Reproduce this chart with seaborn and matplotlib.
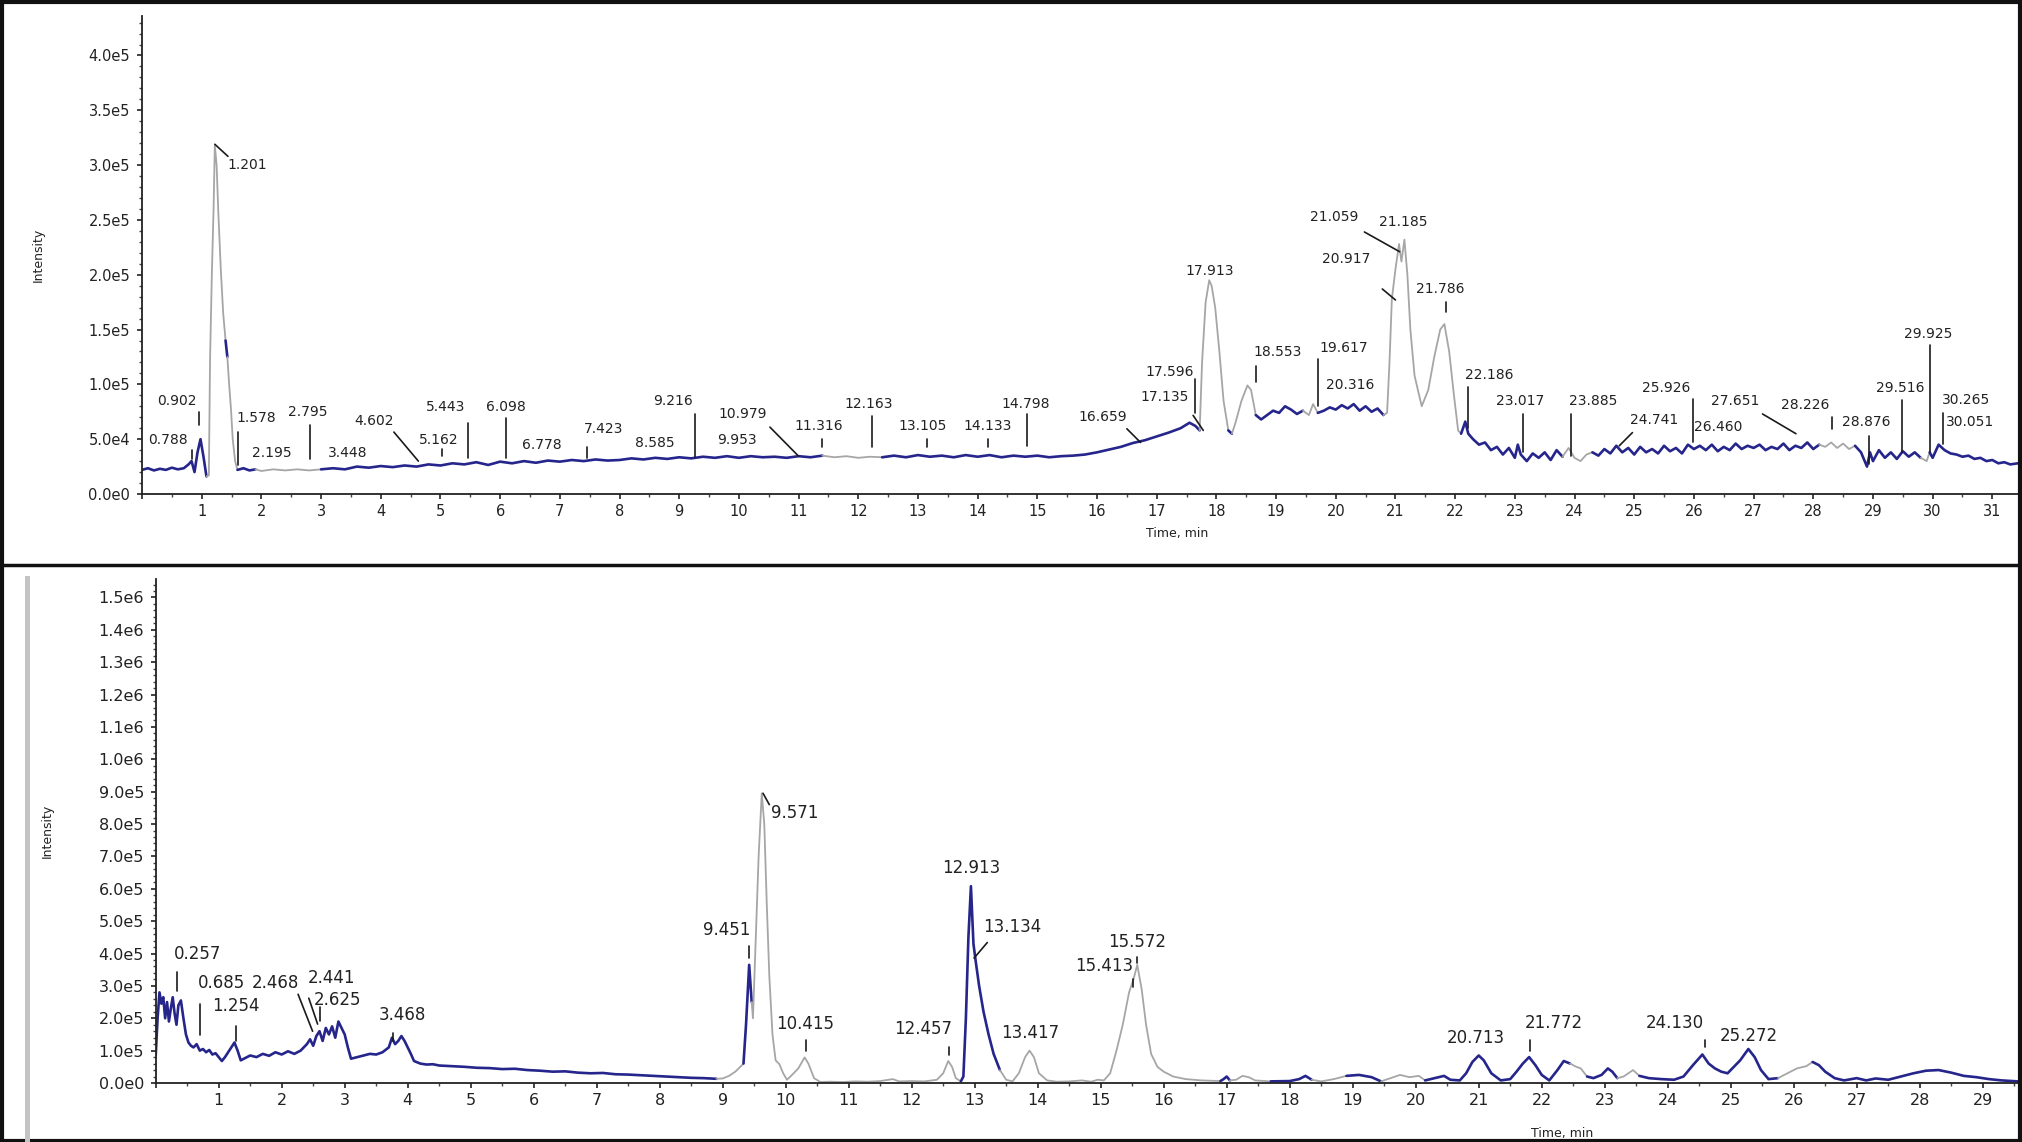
import matplotlib
matplotlib.use("Agg")
import matplotlib.pyplot as plt
import pandas as pd
import seaborn as sns
from matplotlib.ticker import MultipleLocator, FuncFormatter
from matplotlib.lines import Line2D
from matplotlib.patches import Rectangle

#%% Dados lidos do cromatograma (tempo em min, intensidade em cps)

# painel superior
top_t = [0.00, 0.10, 0.20, 0.30, 0.40, 0.50, 0.60, 0.70, 0.78, 0.83,
         0.88, 0.93, 0.98, 1.03, 1.08, 1.12, 1.14, 1.17, 1.20, 1.22,
         1.25, 1.28, 1.32, 1.36, 1.40, 1.43, 1.46, 1.49, 1.52, 1.56,
         1.60, 1.70, 1.80, 1.90, 2.00, 2.20, 2.40, 2.60, 2.80, 3.00,
         3.20, 3.40, 3.60, 3.80, 4.00, 4.20, 4.40, 4.60, 4.80, 5.00,
         5.20, 5.40, 5.60, 5.80, 6.00, 6.20, 6.40, 6.60, 6.80, 7.00,
         7.20, 7.40, 7.60, 7.80, 8.00, 8.20, 8.40, 8.60, 8.80, 9.00,
         9.20, 9.40, 9.60, 9.80, 10.00, 10.20, 10.40, 10.60, 10.80, 11.00,
         11.20, 11.40, 11.60, 11.80, 12.00, 12.20, 12.40, 12.60, 12.80, 13.00,
         13.20, 13.40, 13.60, 13.80, 14.00, 14.20, 14.40, 14.60, 14.80, 15.00,
         15.20, 15.40, 15.60, 15.80, 16.00, 16.20, 16.40, 16.60, 16.80, 17.00,
         17.20, 17.40, 17.55, 17.65, 17.72, 17.76, 17.82, 17.88, 17.92, 17.98,
         18.05, 18.12, 18.20, 18.26, 18.32, 18.42, 18.52, 18.58, 18.66, 18.75,
         18.85, 18.95, 19.05, 19.15, 19.25, 19.35, 19.45, 19.55, 19.62, 19.70,
         19.80, 19.90, 20.00, 20.10, 20.20, 20.30, 20.40, 20.50, 20.60, 20.70,
         20.80, 20.86, 20.90, 20.94, 21.00, 21.06, 21.10, 21.15, 21.20, 21.25,
         21.32, 21.44, 21.55, 21.65, 21.75, 21.82, 21.90, 21.98, 22.05, 22.10,
         22.17, 22.22, 22.30, 22.40, 22.50, 22.60, 22.70, 22.80, 22.90, 23.00,
         23.05, 23.10, 23.20, 23.30, 23.40, 23.50, 23.60, 23.70, 23.80, 23.90,
         24.00, 24.10, 24.20, 24.30, 24.40, 24.50, 24.60, 24.70, 24.80, 24.90,
         25.00, 25.10, 25.20, 25.30, 25.40, 25.50, 25.60, 25.70, 25.80, 25.90,
         26.00, 26.10, 26.20, 26.30, 26.40, 26.50, 26.60, 26.70, 26.80, 26.90,
         27.00, 27.10, 27.20, 27.30, 27.40, 27.50, 27.60, 27.70, 27.80, 27.90,
         28.00, 28.10, 28.20, 28.30, 28.40, 28.50, 28.60, 28.70, 28.80, 28.90,
         28.95, 29.00, 29.10, 29.20, 29.30, 29.40, 29.50, 29.60, 29.70, 29.80,
         29.90, 29.95, 30.00, 30.10, 30.20, 30.30, 30.40, 30.50, 30.60, 30.70,
         30.80, 30.90, 31.00, 31.10, 31.20, 31.30, 31.43]
top_i = [22000, 23500, 21500, 23000, 22000, 24000, 22500, 23500, 27000, 30000,
         20000, 38000, 50000, 34000, 16000, 17000, 122000, 200000, 262000, 318000,
         300000, 255000, 205000, 165000, 140000, 125000, 100000, 78000, 50000, 30000,
         22000, 23500, 21500, 22500, 21000, 22500, 21500, 22500, 21500, 22500,
         23500, 22500, 25000, 24000, 25500, 24500, 26000, 25000, 27000, 26000,
         28000, 27000, 29000, 26500, 29500, 28000, 30000, 28500, 30500, 29500,
         31000, 30000, 31500, 30500, 31000, 32500, 31500, 33000, 32000, 33500,
         32500, 34000, 33000, 34500, 33000, 34500, 33500, 34000, 33000, 34500,
         33500, 35000, 33500, 34500, 33000, 34000, 33500, 35000, 33500, 35500,
         34000, 35000, 33500, 35500, 34000, 35500, 33500, 35000, 34000, 35000,
         33500, 34500, 35000, 36000, 38000, 40500, 43000, 46500, 49000, 52500,
         56000, 60000, 65000, 62000, 58000, 120000, 175000, 195000, 190000, 170000,
         130000, 85000, 58000, 55000, 65000, 85000, 99000, 95000, 72000, 68000,
         72000, 76000, 74000, 80000, 77000, 73000, 76000, 72000, 82000, 74000,
         76000, 79000, 77000, 81000, 78000, 82000, 76000, 80000, 75000, 78000,
         72000, 74000, 120000, 178000, 205000, 228000, 212000, 232000, 200000, 150000,
         108000, 80000, 95000, 125000, 150000, 155000, 130000, 90000, 58000, 55000,
         66000, 55000, 50000, 45000, 47000, 40000, 43000, 36000, 42000, 33000,
         45000, 36000, 30000, 37000, 33000, 38000, 31000, 40000, 34000, 42000,
         33000, 30000, 36000, 38000, 35000, 41000, 37000, 44000, 38000, 42000,
         36000, 43000, 38000, 41000, 37000, 44000, 39000, 42000, 37000, 45000,
         41000, 44000, 40000, 45000, 39000, 43000, 40000, 46000, 41000, 44000,
         42000, 45000, 40000, 43000, 41000, 46000, 40000, 44000, 42000, 47000,
         41000, 45000, 43000, 47000, 42000, 46000, 41000, 44000, 38000, 25000,
         38000, 30000, 40000, 33000, 38000, 32000, 39000, 34000, 38000, 33000,
         30000, 38000, 33000, 45000, 40000, 37000, 36000, 34000, 35000, 32000,
         33000, 30000, 31000, 28000, 29000, 27000, 28000]
# trechos integrados (desenhados em cinza)
top_gray = [(1.10, 1.38), (1.44, 1.58), (1.95, 2.90), (11.50, 12.30),
            (17.74, 18.16), (18.29, 18.70), (19.50, 19.66), (20.83, 22.08),
            (23.85, 24.25), (28.15, 28.65), (29.85, 29.97)]

# rótulos: texto, x, y do texto, linha guia (x0, y0, x1, y1)
top_labels = [
    ("0.788", 0.44, 43000, (0.83, 31500, 0.83, 40000)),
    ("0.902", 0.58, 78000, (0.955, 63000, 0.955, 75000)),
    ("1.201", 1.43, 294000, (1.22, 319000, 1.44, 308000)),
    ("1.578", 1.91, 63000, (1.61, 26600, 1.61, 56500)),
    ("2.195", 2.17, 31000, None),
    ("2.795", 2.77, 68000, (2.81, 31500, 2.81, 63000)),
    ("3.448", 3.44, 31000, None),
    ("4.602", 3.89, 60000, (4.22, 56500, 4.63, 30000)),
    ("5.162", 4.97, 43000, (5.03, 35000, 5.03, 41500)),
    ("5.443", 5.08, 73000, (5.46, 33000, 5.46, 65000)),
    ("6.098", 6.09, 73000, (6.10, 33000, 6.10, 69000)),
    ("6.778", 6.69, 38000, None),
    ("7.423", 7.73, 53000, (7.45, 33000, 7.45, 43000)),
    ("8.585", 8.59, 40000, None),
    ("9.216", 8.89, 78000, (9.26, 34000, 9.26, 73000)),
    ("9.953", 9.96, 42700, None),
    ("10.979", 10.07, 67000, (10.52, 61000, 11.00, 34500)),
    ("11.316", 11.33, 56000, (11.39, 42700, 11.39, 50000)),
    ("12.163", 12.18, 76000, (12.23, 42700, 12.23, 71500)),
    ("13.105", 13.08, 56000, (13.15, 42700, 13.15, 50000)),
    ("14.133", 14.17, 56000, (14.17, 42700, 14.17, 50000)),
    ("14.798", 14.81, 76000, (14.83, 44000, 14.83, 73000)),
    ("16.659", 16.09, 64000, (16.50, 59500, 16.73, 47000)),
    ("17.135", 17.14, 82000, (17.61, 71700, 17.78, 58000)),
    ("17.596", 17.22, 105000, (17.65, 74000, 17.65, 105000)),
    ("17.913", 17.89, 197000, None),
    ("18.553", 19.02, 123500, (18.66, 102000, 18.66, 117000)),
    ("19.617", 20.14, 126500, (19.70, 80000, 19.70, 123000)),
    ("20.316", 20.24, 93000, None),
    ("21.059", 19.97, 246000, (20.48, 239000, 21.07, 221000)),
    ("21.185", 21.13, 242000, None),
    ("20.917", 20.18, 208000, (20.78, 187000, 21.00, 177000)),
    ("21.786", 21.75, 181000, (21.84, 166000, 21.84, 175000)),
    ("22.186", 22.57, 102000, (22.21, 60000, 22.21, 98000)),
    ("23.017", 23.09, 78000, (23.14, 38000, 23.14, 73000)),
    ("23.885", 24.31, 78000, (23.94, 35000, 23.94, 73000)),
    ("24.741", 25.34, 61000, (24.97, 56000, 24.75, 44000)),
    ("25.926", 25.53, 90000, (25.98, 47000, 25.98, 87000)),
    ("26.460", 26.41, 55000, None),
    ("27.651", 26.70, 78000, (27.15, 73000, 27.71, 55000)),
    ("28.226", 27.86, 75000, (28.32, 59500, 28.32, 70000)),
    ("28.876", 28.89, 59500, (28.93, 27500, 28.93, 53000)),
    ("29.516", 29.45, 90000, (29.48, 38000, 29.48, 85500)),
    ("29.925", 29.93, 140000, (29.95, 38000, 29.95, 136000)),
    ("30.265", 30.56, 79000, None),
    ("30.051", 30.63, 59500, (30.17, 46000, 30.17, 74000)),
]

# painel inferior
bot_t = [0.00, 0.03, 0.06, 0.09, 0.12, 0.15, 0.18, 0.21, 0.24, 0.27,
         0.30, 0.33, 0.36, 0.40, 0.44, 0.48, 0.52, 0.56, 0.60, 0.65,
         0.70, 0.75, 0.80, 0.85, 0.90, 0.95, 1.00, 1.05, 1.10, 1.15,
         1.20, 1.25, 1.30, 1.35, 1.40, 1.50, 1.60, 1.70, 1.80, 1.90,
         2.00, 2.10, 2.20, 2.30, 2.40, 2.45, 2.50, 2.55, 2.60, 2.65,
         2.70, 2.75, 2.80, 2.85, 2.90, 2.95, 3.00, 3.05, 3.10, 3.20,
         3.30, 3.40, 3.50, 3.60, 3.70, 3.75, 3.80, 3.85, 3.90, 3.95,
         4.00, 4.05, 4.10, 4.20, 4.30, 4.40, 4.50, 4.70, 4.90, 5.10,
         5.30, 5.50, 5.70, 5.90, 6.10, 6.30, 6.50, 6.70, 6.90, 7.10,
         7.30, 7.50, 7.70, 7.90, 8.10, 8.30, 8.50, 8.70, 8.90, 9.00,
         9.10, 9.20, 9.28, 9.33, 9.37, 9.42, 9.46, 9.48, 9.52, 9.57,
         9.62, 9.66, 9.70, 9.74, 9.79, 9.84, 9.90, 9.96, 10.02, 10.10,
         10.20, 10.30, 10.36, 10.45, 10.55, 10.70, 10.90, 11.10, 11.30, 11.50,
         11.70, 11.80, 12.00, 12.20, 12.40, 12.50, 12.58, 12.64, 12.70, 12.78,
         12.82, 12.86, 12.90, 12.94, 12.98, 13.02, 13.07, 13.14, 13.22, 13.30,
         13.40, 13.50, 13.60, 13.70, 13.80, 13.87, 13.94, 14.02, 14.15, 14.30,
         14.50, 14.70, 14.85, 14.95, 15.05, 15.15, 15.25, 15.35, 15.45, 15.52,
         15.58, 15.65, 15.72, 15.80, 15.90, 16.00, 16.15, 16.35, 16.60, 16.90,
         16.95, 17.00, 17.05, 17.15, 17.25, 17.35, 17.45, 17.70, 18.00, 18.15,
         18.25, 18.35, 18.50, 18.70, 18.90, 19.10, 19.30, 19.45, 19.60, 19.75,
         19.90, 20.05, 20.15, 20.30, 20.45, 20.55, 20.70, 20.80, 20.90, 21.00,
         21.08, 21.20, 21.35, 21.50, 21.60, 21.70, 21.80, 21.90, 22.00, 22.12,
         22.25, 22.35, 22.45, 22.55, 22.62, 22.72, 22.82, 22.95, 23.05, 23.12,
         23.20, 23.30, 23.45, 23.55, 23.70, 23.90, 24.10, 24.25, 24.40, 24.55,
         24.65, 24.75, 24.85, 24.95, 25.05, 25.15, 25.28, 25.38, 25.48, 25.60,
         25.75, 25.90, 26.05, 26.20, 26.30, 26.40, 26.50, 26.65, 26.80, 27.00,
         27.15, 27.30, 27.50, 27.70, 27.90, 28.10, 28.30, 28.50, 28.70, 28.90,
         29.10, 29.30, 29.56]
bot_i = [85000, 200000, 280000, 245000, 265000, 200000, 250000, 190000, 230000, 265000,
         215000, 180000, 240000, 255000, 200000, 150000, 125000, 115000, 110000, 120000,
         100000, 105000, 95000, 102000, 88000, 92000, 80000, 68000, 80000, 95000,
         110000, 125000, 100000, 70000, 75000, 85000, 80000, 90000, 84000, 95000,
         88000, 98000, 90000, 100000, 120000, 135000, 115000, 145000, 160000, 130000,
         170000, 150000, 175000, 140000, 190000, 170000, 150000, 110000, 75000, 80000,
         85000, 90000, 88000, 95000, 110000, 140000, 120000, 130000, 145000, 130000,
         110000, 90000, 68000, 60000, 57000, 58000, 54000, 52000, 50000, 47000,
         46000, 43000, 44000, 40000, 38000, 35000, 36000, 32000, 30000, 31000,
         27000, 26000, 24000, 22000, 20000, 18000, 16000, 15000, 13000, 14000,
         22000, 35000, 50000, 60000, 180000, 365000, 250000, 200000, 420000, 700000,
         895000, 800000, 550000, 330000, 150000, 70000, 58000, 30000, 10000, 25000,
         45000, 79000, 60000, 15000, 3000, 4000, 3000, 5000, 4000, 6000,
         12000, 5000, 6000, 5000, 10000, 30000, 68000, 50000, 15000, 5000,
         20000, 200000, 450000, 608000, 430000, 370000, 300000, 220000, 150000, 90000,
         40000, 10000, 5000, 30000, 80000, 100000, 80000, 30000, 8000, 4000,
         5000, 8000, 4000, 10000, 8000, 30000, 100000, 180000, 280000, 320000,
         365000, 290000, 180000, 90000, 50000, 35000, 20000, 12000, 8000, 6000,
         12000, 20000, 8000, 10000, 22000, 18000, 8000, 5000, 6000, 12000,
         22000, 10000, 5000, 12000, 22000, 25000, 18000, 5000, 15000, 25000,
         18000, 22000, 8000, 15000, 22000, 10000, 8000, 30000, 65000, 85000,
         70000, 30000, 8000, 12000, 35000, 60000, 80000, 55000, 25000, 8000,
         40000, 68000, 60000, 50000, 45000, 20000, 15000, 25000, 45000, 35000,
         15000, 20000, 40000, 22000, 15000, 12000, 10000, 20000, 55000, 88000,
         60000, 45000, 35000, 30000, 50000, 70000, 105000, 80000, 40000, 12000,
         15000, 30000, 45000, 52000, 65000, 55000, 35000, 15000, 8000, 15000,
         8000, 14000, 10000, 20000, 30000, 38000, 40000, 32000, 22000, 18000,
         12000, 8000, 5000]
bot_gray = [(8.95, 9.345), (9.47, 12.79), (13.45, 16.92), (17.10, 17.60),
            (18.40, 18.80), (19.50, 20.20), (22.50, 22.76), (23.25, 23.60),
            (25.70, 26.25)]

bot_labels = [
    ("0.257", 0.66, 371000, (0.34, 285000, 0.34, 342000)),
    ("0.685", 1.04, 280000, (0.70, 148000, 0.70, 245000)),
    ("2.468", 1.90, 280000, (2.26, 274000, 2.49, 160000)),
    ("1.254", 1.27, 211000, (1.27, 130000, 1.27, 175000)),
    ("2.441", 2.79, 297000, (2.43, 262000, 2.57, 182000)),
    ("2.625", 2.89, 228000, (2.60, 190000, 2.60, 235000)),
    ("3.468", 3.92, 183000, (3.76, 130000, 3.76, 155000)),
    ("9.451", 9.07, 445000, (9.42, 387000, 9.42, 424000)),
    ("9.571", 9.76, 805000, (9.64, 895000, 9.74, 860000)),
    ("10.415", 10.31, 154000, (10.32, 100000, 10.32, 132000)),
    ("12.457", 12.18, 138000, (12.59, 85000, 12.59, 112000)),
    ("12.913", 12.95, 635000, None),
    ("13.134", 13.60, 455000, (13.20, 434000, 12.99, 386000)),
    ("13.417", 13.88, 127000, None),
    ("15.413", 15.05, 333000, (15.51, 296000, 15.51, 322000)),
    ("15.572", 15.58, 408000, (15.58, 370000, 15.58, 388000)),
    ("20.713", 20.96, 111000, None),
    ("21.772", 22.19, 159000, (21.81, 100000, 21.81, 132000)),
    ("24.130", 24.12, 159000, (24.59, 111000, 24.59, 132000)),
    ("25.272", 25.28, 116000, None),
]

assert len(top_t) == len(top_i) and len(bot_t) == len(bot_i)

NAVY = '#25258c'
GRAY = '#a6a6a6'
W, H = 2022, 1142

#%% Funções auxiliares

def trechos(t, y, spans):
    # divide o traço em trechos contínuos de mesma cor
    rows = []
    run, prev = -1, None
    for k in range(1, len(t)):
        mid = (t[k - 1] + t[k]) / 2
        g = any(a <= mid <= b for a, b in spans)
        if g != prev:
            run += 1
            rows.append((t[k - 1], y[k - 1], f"r{run}", g))
            prev = g
        rows.append((t[k], y[k], f"r{run}", g))
    df = pd.DataFrame(rows, columns=['t', 'i', 'run', 'gray'])
    pal = {r: (GRAY if g else NAVY) for r, g in df.groupby('run')['gray'].first().items()}
    return df, pal


def sci(v, pos):
    if v == 0:
        return "0.0e0"
    e = 0
    m = v
    while abs(m) >= 10:
        m /= 10
        e += 1
    return f"{m:.1f}e{e}"


def painel(ax, t, y, spans, labels, xmax, ymax, ystep, fs_tick, fs_lab, xl_pos, yl_pos):
    df, pal = trechos(t, y, spans)
    sns.lineplot(data=df, x='t', y='i', hue='run', palette=pal, size='gray',
                 sizes={True: 1.3, False: 1.9}, estimator=None,
                 sort=False, legend=False, ax=ax)
    for txt, tx, ty, ln in labels:
        ha = 'left' if txt in ("1.201", "9.571") else 'center'
        ax.text(tx, ty, txt, ha=ha, va='bottom', fontsize=fs_lab, color='#222222')
        if ln is not None:
            ax.plot([ln[0], ln[2]], [ln[1], ln[3]], color='#1a1a1a', lw=1.2)
    ax.set_xlim(0, xmax)
    ax.set_ylim(0, ymax)
    ax.xaxis.set_major_locator(MultipleLocator(1))
    ax.xaxis.set_minor_locator(MultipleLocator(0.5))
    ax.yaxis.set_major_locator(MultipleLocator(ystep))
    ax.yaxis.set_minor_locator(MultipleLocator(ystep / 5))
    ax.xaxis.set_major_formatter(FuncFormatter(lambda v, p: "" if v == 0 else f"{int(round(v))}"))
    ax.yaxis.set_major_formatter(FuncFormatter(sci))
    ax.tick_params(axis='both', which='major', direction='out', length=3.5, width=1.2,
                   color='#222222', labelsize=fs_tick, labelcolor='#222222', bottom=True, left=True)
    ax.tick_params(axis='both', which='minor', direction='out', length=2, width=1.0,
                   color='#444444', bottom=True, left=True)
    ax.tick_params(axis='y', which='major', pad=5)
    ax.tick_params(axis='x', which='major', pad=4)
    sns.despine(ax=ax)
    for s in ('left', 'bottom'):
        ax.spines[s].set_linewidth(1.3)
        ax.spines[s].set_color('#222222')
    ax.set_xlabel("Time, min", fontsize=9, color='#222222')
    ax.set_ylabel("Intensity", fontsize=9, color='#222222')
    ax.xaxis.set_label_coords(*xl_pos)
    ax.yaxis.set_label_coords(*yl_pos)


#%% Figura

sns.set_theme(style='white')
plt.rcParams['font.family'] = ['DejaVu Sans']

fig = plt.figure(figsize=(W / 100, H / 100), dpi=100, facecolor='white')

ax1 = fig.add_axes([142 / W, 1 - 494 / H, (2018 - 142) / W, (494 - 16) / H])
ax2 = fig.add_axes([155.7 / W, 1 - 1083 / H, (2018 - 155.7) / W, (1083 - 579) / H])

painel(ax1, top_t, top_i, top_gray, top_labels, 31.43, 4.36e5, 5e4,
       10.5, 10, (0.552, -0.069), (-0.052, 0.5))
painel(ax2, bot_t, bot_i, bot_gray, bot_labels, 29.56, 1.557e6, 1e5,
       11.5, 12, (0.755, -0.087), (-0.0546, 0.5))

# molduras dos painéis
fig.add_artist(Rectangle((0.001, 0.001), 0.998, 0.997, transform=fig.transFigure,
                         fill=False, lw=3, edgecolor='#111111'))
fig.add_artist(Line2D([0, 1], [1 - 565 / H, 1 - 565 / H], transform=fig.transFigure,
                      lw=2.5, color='#111111'))
fig.add_artist(Rectangle((25 / W, 0), 5 / W, 1 - 576 / H, transform=fig.transFigure,
                         facecolor='#c4c4c4', edgecolor='none'))

fig.savefig('out.png', dpi=100, facecolor='white')
